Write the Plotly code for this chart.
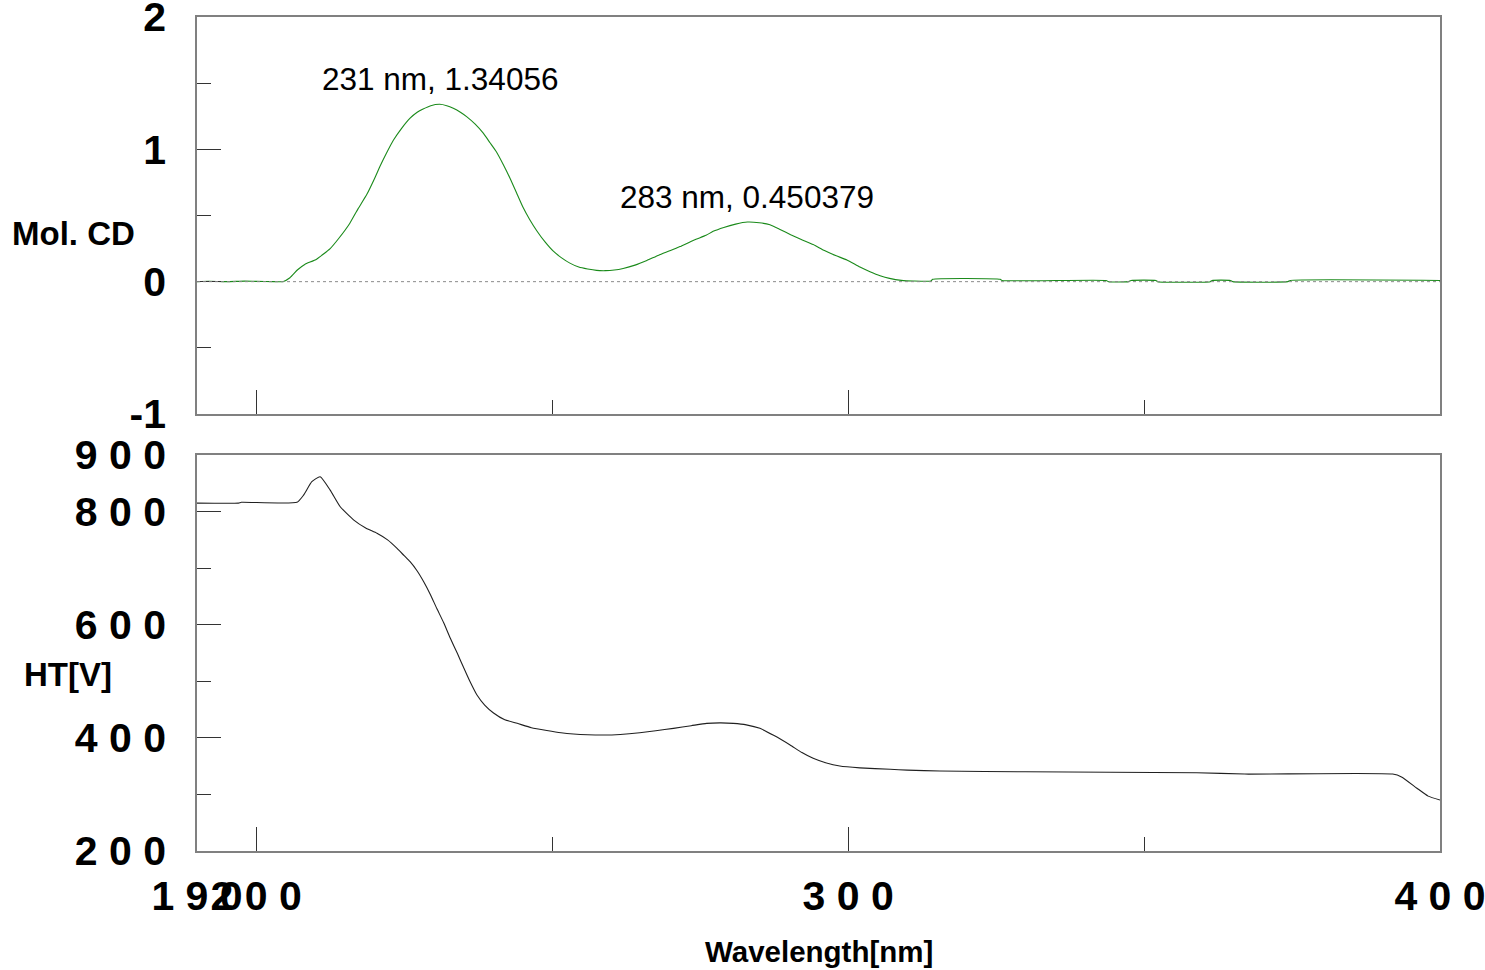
import plotly.graph_objects as go

# ---------------- data ----------------
cd_nm = [190, 192, 195, 198, 200, 203, 204.5, 205.7, 207, 208.2, 210.2, 212.5, 214, 215.8, 217.2,
         218.7, 220, 220.9, 222, 223.2, 224.6, 226, 227.2, 228.2, 229.5, 231, 232.2, 233.3, 234.5,
         235.6, 237, 238.4, 239.5, 240.6, 241.8, 242.9, 244, 245.1, 246.2, 247.4, 248.8, 250.2,
         251.6, 253, 254.5, 256, 257.5, 259, 260.5, 262, 264, 266, 268, 270, 271.6, 274, 276,
         277.2, 279, 281, 283, 285, 286.8, 288.5, 290.3, 292, 294.1, 296, 298, 299.8, 302, 303.7,
         305.4, 307, 309, 311, 314, 314.3, 325.7, 326, 343.6, 344, 347.4, 347.8, 352, 352.3,
         361.2, 361.5, 364.6, 365, 374.3, 374.7, 400]
cd_val = [0.0, 0.003, 0.0, 0.004, 0.002, 0.0, 0.0, 0.03, 0.09, 0.13, 0.17, 0.25, 0.33, 0.44, 0.55,
          0.66, 0.78, 0.87, 0.97, 1.07, 1.16, 1.235, 1.28, 1.305, 1.33, 1.34056, 1.33, 1.31, 1.28,
          1.245, 1.19, 1.12, 1.05, 0.98, 0.88, 0.78, 0.67, 0.56, 0.47, 0.385, 0.30, 0.23,
          0.18, 0.14, 0.11, 0.095, 0.085, 0.083, 0.088, 0.10, 0.125, 0.16, 0.20, 0.235, 0.265, 0.315, 0.35,
          0.38, 0.41, 0.435, 0.450379, 0.445, 0.43, 0.395, 0.355, 0.32, 0.28, 0.235, 0.195, 0.164, 0.11, 0.075,
          0.045, 0.025, 0.01, 0.005, 0.005, 0.018, 0.018, 0.009, 0.009, 0.0, 0.0, 0.009, 0.009, 0.0,
          0.0, 0.009, 0.009, 0.0, 0.0, 0.009, 0.009]

ht_nm = [190, 197, 197.5, 206.9, 208, 209.4, 210.8, 212.5, 214.2, 216.5, 218.5, 220.4, 222.2, 223.8,
         225, 226, 227.2, 228.3, 229.4, 230.5, 231.7, 232.8, 234, 235.1, 236.1, 237.3, 238.6, 240.1,
         242, 244.1, 246.5, 249.1, 251.5, 253.6, 256, 258.6, 261.5, 264.8, 267.5, 270.5, 273.5,
         276.1, 278.5, 280.6, 282.8, 285.1, 287.5, 290.2, 292.2, 294.1, 296.2, 298.6, 302, 307.1,
         310, 315.5, 330, 358.9, 367, 392, 393.5, 396.1, 398, 400]
ht_val = [815, 815, 816.4, 816.4, 829, 853, 861.6, 838, 808.6, 785, 771, 761.6, 750, 735,
          722, 711.4, 695, 676, 654, 629, 603, 576, 549, 523, 500, 475.7, 458, 444,
          432, 425.7, 418, 413, 409, 406.8, 405.5, 405, 406, 409, 412.5, 416.8, 421.5,
          425.6, 426.5, 425.6, 423, 416.8, 404, 387.4, 374, 363.8, 356, 350.2, 347, 344.4,
          343, 341.5, 340, 338.3, 336, 336, 331, 311, 297, 290]

peaks_nm = [231, 283]
peaks_val = [1.34056, 0.450379]
peak_labels = ["231 nm, 1.34056", "283 nm, 0.450379"]

x_tickvals = [190, 200, 300, 400]
x_ticktext = ["1 9 0", "2 0 0", "3 0 0", "4 0 0"]
x_minor = [250, 350]
cd_tickvals = [-1, 0, 1, 2]
cd_ticktext = ["-1", "0", "1", "2"]
cd_minor = [-0.5, 0.5, 1.5]
ht_tickvals = [200, 400, 600, 800, 900]
ht_ticktext = ["2 0 0", "4 0 0", "6 0 0", "8 0 0", "9 0 0"]
ht_minor = [300, 500, 700]

# ---------------- figure ----------------
FONT = "Liberation Sans, Arial, sans-serif"
LINE = "#808080"
TICK = "#333333"

fig = go.Figure()
fig.add_trace(go.Scatter(x=cd_nm, y=cd_val, mode="lines", xaxis="x", yaxis="y",
                         line=dict(color="#1a8a1a", width=1.1, shape="spline", smoothing=0.5),
                         showlegend=False, hoverinfo="skip"))
fig.add_trace(go.Scatter(x=ht_nm, y=ht_val, mode="lines", xaxis="x2", yaxis="y2",
                         line=dict(color="#202020", width=1.1, shape="spline", smoothing=0.5),
                         showlegend=False, hoverinfo="skip"))

tickfont = dict(family=FONT, size=41, color="black", weight="bold")

common_x = dict(range=[190, 400], showline=True, linecolor=LINE, linewidth=1.5, mirror=True,
                ticks="inside", ticklen=24, tickwidth=1, tickcolor=TICK,
                tickmode="array", tickvals=x_tickvals, ticktext=x_ticktext,
                minor=dict(tickmode="array", tickvals=x_minor, ticks="inside", ticklen=14,
                           tickcolor=TICK, tickwidth=1),
                showgrid=False, zeroline=False, tickangle=0, tickfont=tickfont,
                automargin=False, ticklabeloverflow="allow")

common_y = dict(showline=True, linecolor=LINE, linewidth=1.5, mirror=True,
                ticks="inside", ticklen=24, tickwidth=1, tickcolor=TICK,
                tickmode="array", showgrid=False, zeroline=False, tickfont=tickfont,
                ticklabelstandoff=21, automargin=False, ticklabeloverflow="allow")

fig.update_layout(
    width=1485, height=970,
    paper_bgcolor="white", plot_bgcolor="white",
    margin=dict(l=197, r=45, t=17, b=119, autoexpand=False),
    showlegend=False,
    xaxis=dict(**common_x, anchor="y", showticklabels=False),
    xaxis2=dict(**common_x, anchor="y2", matches="x", showticklabels=True,
                ticklabelstandoff=8),
    yaxis=dict(**common_y, domain=[0.524, 1.0], range=[-1, 2], anchor="x",
               tickvals=cd_tickvals, ticktext=cd_ticktext,
               minor=dict(tickmode="array", tickvals=cd_minor, ticks="inside", ticklen=14,
                          tickcolor=TICK, tickwidth=1)),
    yaxis2=dict(**common_y, domain=[0.0, 0.4748], range=[200, 900], anchor="x2",
                tickvals=ht_tickvals, ticktext=ht_ticktext,
                minor=dict(tickmode="array", tickvals=ht_minor, ticks="inside", ticklen=14,
                           tickcolor=TICK, tickwidth=1)),
)

# zero reference line in the CD panel
fig.add_shape(type="line", xref="x domain", yref="y", x0=0, x1=1, y0=0, y1=0,
              line=dict(color="#8a8a8a", width=1, dash="3px,3px"))

# peak labels
for px_, py_, txt in zip(peaks_nm, peaks_val, peak_labels):
    fig.add_annotation(x=px_, y=py_, xref="x", yref="y", text=txt, showarrow=False,
                       yanchor="bottom", yshift=5.5,
                       font=dict(family=FONT, size=31.5, color="black"))

# axis titles
fig.add_annotation(text="Mol. CD", xref="paper", yref="paper", x=-0.1504, y=0.741,
                   xanchor="left", yanchor="middle", showarrow=False,
                   font=dict(family=FONT, size=33, color="black", weight="bold"))
fig.add_annotation(text="HT[V]", xref="paper", yref="paper", x=-0.1408, y=0.2122,
                   xanchor="left", yanchor="middle", showarrow=False,
                   font=dict(family=FONT, size=33, color="black", weight="bold"))
fig.add_annotation(text="Wavelength[nm]", xref="paper", yref="paper", x=0.5, y=-0.1211,
                   xanchor="center", yanchor="middle", showarrow=False,
                   font=dict(family=FONT, size=29.5, color="black", weight="bold"))

fig.write_html("out.html", config={"displayModeBar": False},
               post_script="document.body.style.margin='0';document.body.style.overflow='hidden';")
